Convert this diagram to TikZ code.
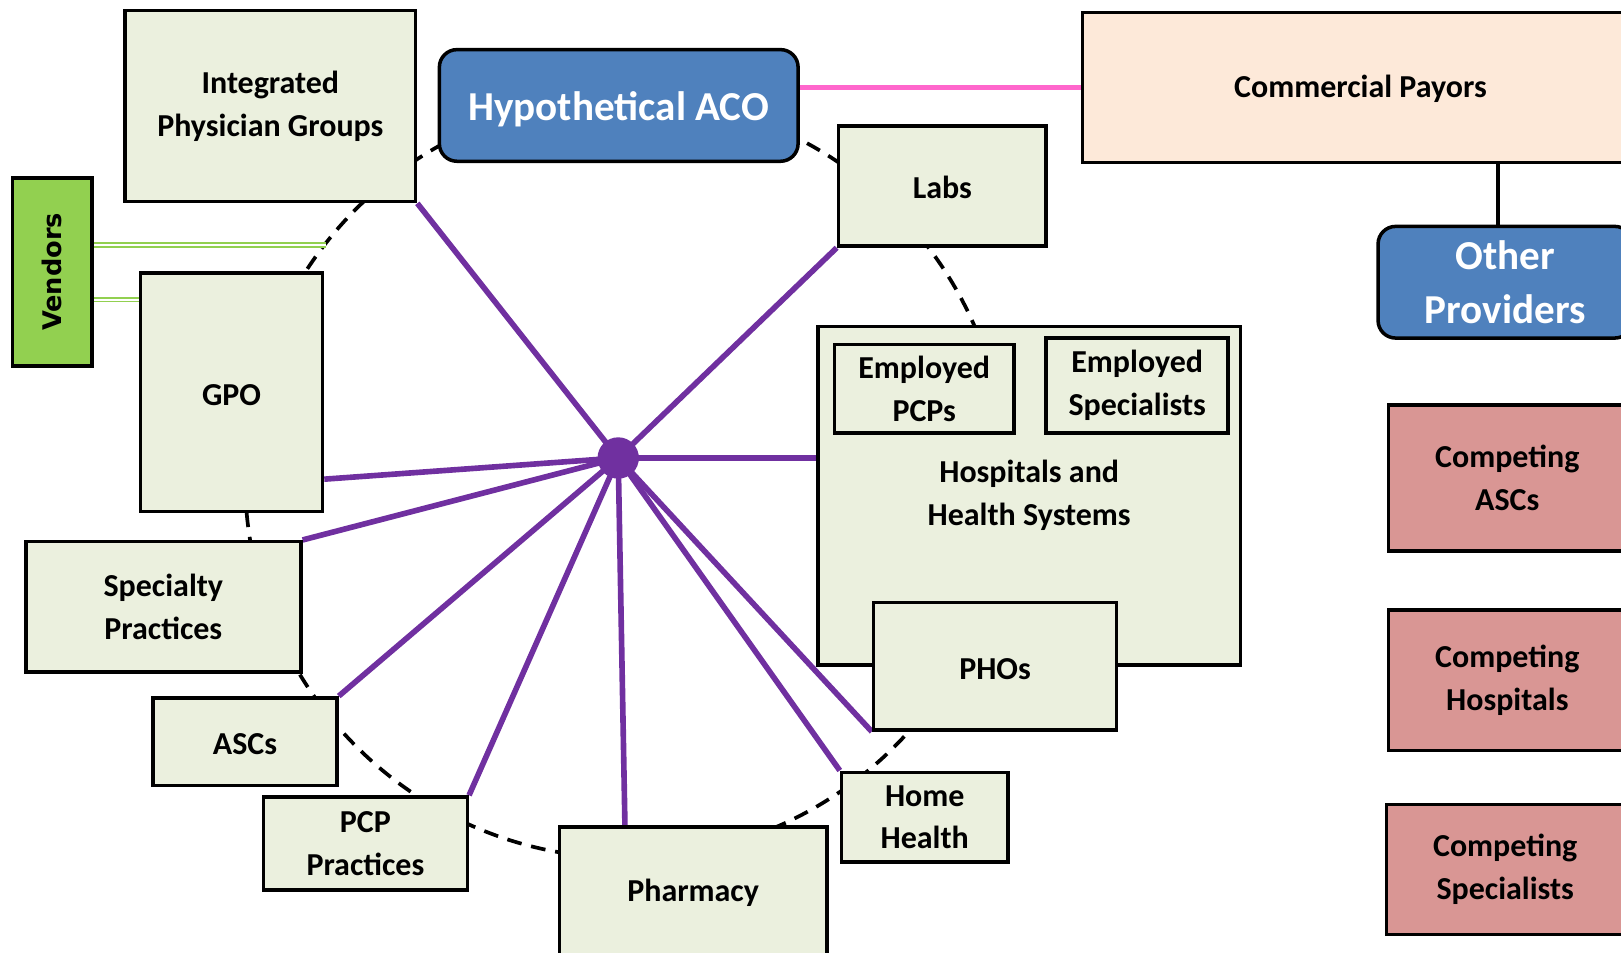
\documentclass[tikz,border=0pt]{standalone}
\usepackage{fontspec}
\usepackage{graphicx}
\setmainfont{Carlito}
\newfontfamily\vfont{DejaVu Sans}
\usetikzlibrary{backgrounds,calc}
\newlength\ux
\setlength\ux{0.10338mm}
\definecolor{boxfill}{HTML}{EBF0DE}
\definecolor{acoblue}{HTML}{4F81BD}
\definecolor{payfill}{HTML}{FDE9D9}
\definecolor{compfill}{HTML}{D99694}
\definecolor{vgreen}{HTML}{92D050}
\definecolor{spokepurple}{HTML}{7030A0}
\definecolor{linkpink}{HTML}{FF66CC}
\tikzset{
  sz/.style 2 args={minimum width=#1\ux, minimum height=#2\ux},
  box/.style={draw=black, line width=1pt, fill=boxfill, align=center, inner sep=0pt,
    font=\fontsize{9.1}{12.2}\selectfont\bfseries,
    execute at begin node={\rule{0pt}{7.3pt}}},
  bluebox/.style={box, fill=acoblue, rounded corners=5pt, text=white,
    font=\fontsize{11.7}{15.3}\selectfont\bfseries,
    execute at begin node={\rule{0pt}{10.4pt}}},
  paybox/.style={box, fill=payfill},
  compbox/.style={box, fill=compfill},
  vendbox/.style={box, fill=vgreen, font=\fontsize{7.3}{9}\selectfont\vfont\bfseries,
    execute at begin node={}},
  spoke/.style={draw=spokepurple, line width=1.6pt},
  ring/.style={draw=black, line width=1.05pt, dash pattern=on 4.2pt off 2.8pt},
  vline/.style={draw=vgreen, line width=0.4pt, double=white, double distance=0.7pt},
}
\begin{document}
\begin{tikzpicture}[x=0.10338mm, y=-0.10338mm]
\useasboundingbox (0,0) rectangle (1568,921);
% nodes
\node[vendbox, sz={77}{182}] (vend) at (50.5,263) {\rotatebox{90}{Vendors}};
\node[box, sz={281}{185}] (ipg) at (261.5,102.5) {Integrated\\Physician Groups};
\node[bluebox, sz={347}{108}] (aco) at (598.5,102) {Hypothetical ACO};
\node[paybox, sz={538}{145}] (cp) at (1316,84.5) {Commercial Payors};
\node[box, sz={201}{116}] (labs) at (911.5,180) {Labs};
\node[bluebox, sz={246}{108}] (op) at (1456,273) {Other\\Providers};
\node[box, sz={409}{327}] (hosp) at (995.5,479.5) {Hospitals and\\Health Systems};
\node[box, sz={174}{86}] (epcp) at (894,376) {Employed\\PCPs};
\node[box, sz={176}{92}] (espec) at (1100,373) {Employed\\Specialists};
\node[box, sz={235}{123}] (phos) at (962.5,644.5) {PHOs};
\node[box, sz={161}{87}] (hh) at (894.5,790.5) {Home\\Health};
\node[box, sz={259}{124}] (pharm) at (670.5,862) {Pharmacy};
\node[box, sz={197}{90}] (pcp) at (353.5,816) {PCP\\Practices};
\node[box, sz={178}{85}] (ascs) at (237,717.5) {ASCs};
\node[box, sz={266}{126}] (spec) at (158,587) {Specialty\\Practices};
\node[box, sz={176}{231}] (gpo) at (224,379.5) {GPO};
\node[compbox, sz={230}{141}] (cascs) at (1458,462.5) {Competing\\ASCs};
\node[compbox, sz={230}{136}] (chosp) at (1458,658) {Competing\\Hospitals};
\node[compbox, sz={230}{126}] (cspec) at (1456,841) {Competing\\Specialists};
\node[circle, fill=spokepurple, inner sep=0pt, minimum size=40\ux] (hub) at (598,443) {};
\coordinate (vendend) at (315,237);
% connectors behind
\begin{scope}[on background layer]
  \draw[ring] (605,462) circle [radius=368\ux];
  \draw[vline] ([yshift=26\ux]vend.east) -- (vendend);
  \draw[vline] ([yshift=-27\ux]vend.east) -- ([yshift=-27\ux]vend.east -| gpo.west);
  \draw[spoke] (hub.center) -- (ipg.south east);
  \draw[spoke] (hub.center) -- (labs.south west);
  \draw[spoke] (hub.center) -- (hub.center -| hosp.west);
  \draw[spoke] (hub.center) -- ([yshift=-84\ux]gpo.east);
  \draw[spoke] (hub.center) -- (spec.north east);
  \draw[spoke] (hub.center) -- (ascs.north east);
  \draw[spoke] (hub.center) -- (pcp.north east);
  \draw[spoke] (hub.center) -- ([xshift=-66\ux]pharm.north);
  \draw[spoke] (hub.center) -- (hh.north west);
  \draw[spoke] (hub.center) -- (phos.south west);
  \draw[draw=linkpink, line width=1.5pt] (cp.west) -- (cp.west -| aco.east);
  \draw[draw=black, line width=1.3pt] ([xshift=-7\ux]op.north) -- ([xshift=-7\ux]op.north |- cp.south);
\end{scope}
\end{tikzpicture}
\end{document}
